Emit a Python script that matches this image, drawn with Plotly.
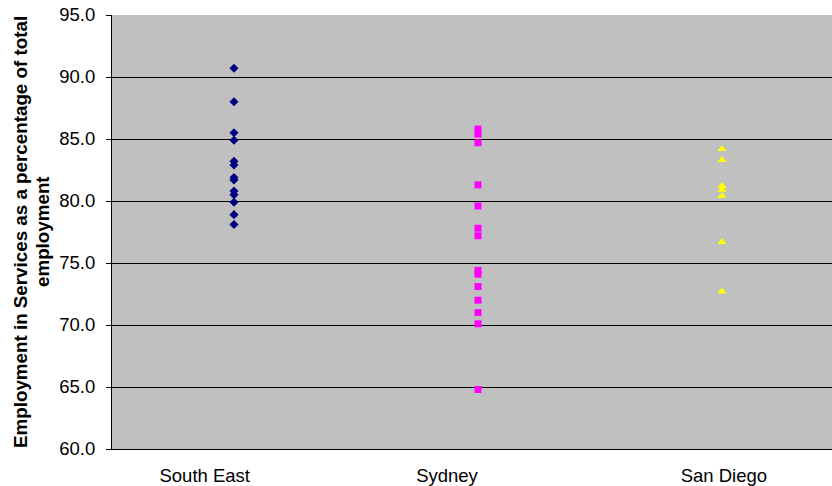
import plotly.graph_objects as go

# Category labels along the x axis
regions = ["South East", "Sydney", "San Diego"]

# Services employment share (%) for each observation, by region
south_east = [90.7, 88.0, 85.5, 84.9, 83.2, 82.9, 81.9, 81.7, 80.8, 80.5, 79.9, 78.9, 78.1]
sydney = [85.8, 85.4, 84.7, 81.3, 79.6, 77.8, 77.2, 74.4, 74.1, 73.1, 72.0, 71.0, 70.1, 64.8]
san_diego = [84.2, 83.3, 81.2, 80.9, 80.4, 76.7, 72.7]

y_ticks = [60, 65, 70, 75, 80, 85, 90, 95]

# y axis title, one entry per line
y_title_lines = ["Employment in Services as a percentage of total", "employment"]

# where each category's label sits along the axis
label_positions = [0.88, 1.873, 3.008]

series = [
    (south_east, 1, "diamond", "#000080", 7),
    (sydney, 2, "square", "#FF00FF", 7),
    (san_diego, 3, "triangle-up", "#FFFF00", 8),
]

fig = go.Figure()
for values, pos, symbol, color, size in series:
    fig.add_trace(go.Scatter(
        x=[pos] * len(values),
        y=values,
        mode="markers",
        marker=dict(symbol=symbol, color=color, size=size, line=dict(width=0)),
        showlegend=False,
        hoverinfo="y",
    ))

# Two-line rotated y axis title, lines placed individually for tight spacing
plot_left, plot_width = 112, 720
for line, px in zip(y_title_lines, [20, 42]):
    fig.add_annotation(
        text=f"<b>{line}</b>",
        xref="paper", yref="paper",
        x=(px - plot_left) / plot_width, y=0.5,
        xanchor="center", yanchor="middle",
        textangle=-90,
        showarrow=False,
        font=dict(size=18.8, color="black"),
    )

fig.update_layout(
    width=832,
    height=486,
    margin=dict(l=112, r=0, t=15, b=35),
    paper_bgcolor="white",
    plot_bgcolor="#C0C0C0",
    font=dict(family="Liberation Sans, Arial, sans-serif", size=18.5, color="black"),
    xaxis=dict(
        range=[0.5, 3.451],
        tickmode="array",
        tickvals=label_positions,
        ticktext=regions,
        showgrid=False,
        zeroline=False,
        showline=True,
        linecolor="black",
        linewidth=1,
        ticks="",
        ticklabelstandoff=10,
        tickfont=dict(size=18.5),
    ),
    yaxis=dict(
        range=[60, 95],
        tickmode="array",
        tickvals=y_ticks,
        ticktext=[f"{v:.1f}" for v in y_ticks],
        showgrid=True,
        gridcolor="black",
        gridwidth=1,
        zeroline=False,
        showline=True,
        linecolor="black",
        linewidth=1,
        ticks="outside",
        ticklen=5,
        tickcolor="black",
        ticklabelstandoff=7,
        tickfont=dict(size=18.5),
    ),
)

fig.write_html("out.html")
